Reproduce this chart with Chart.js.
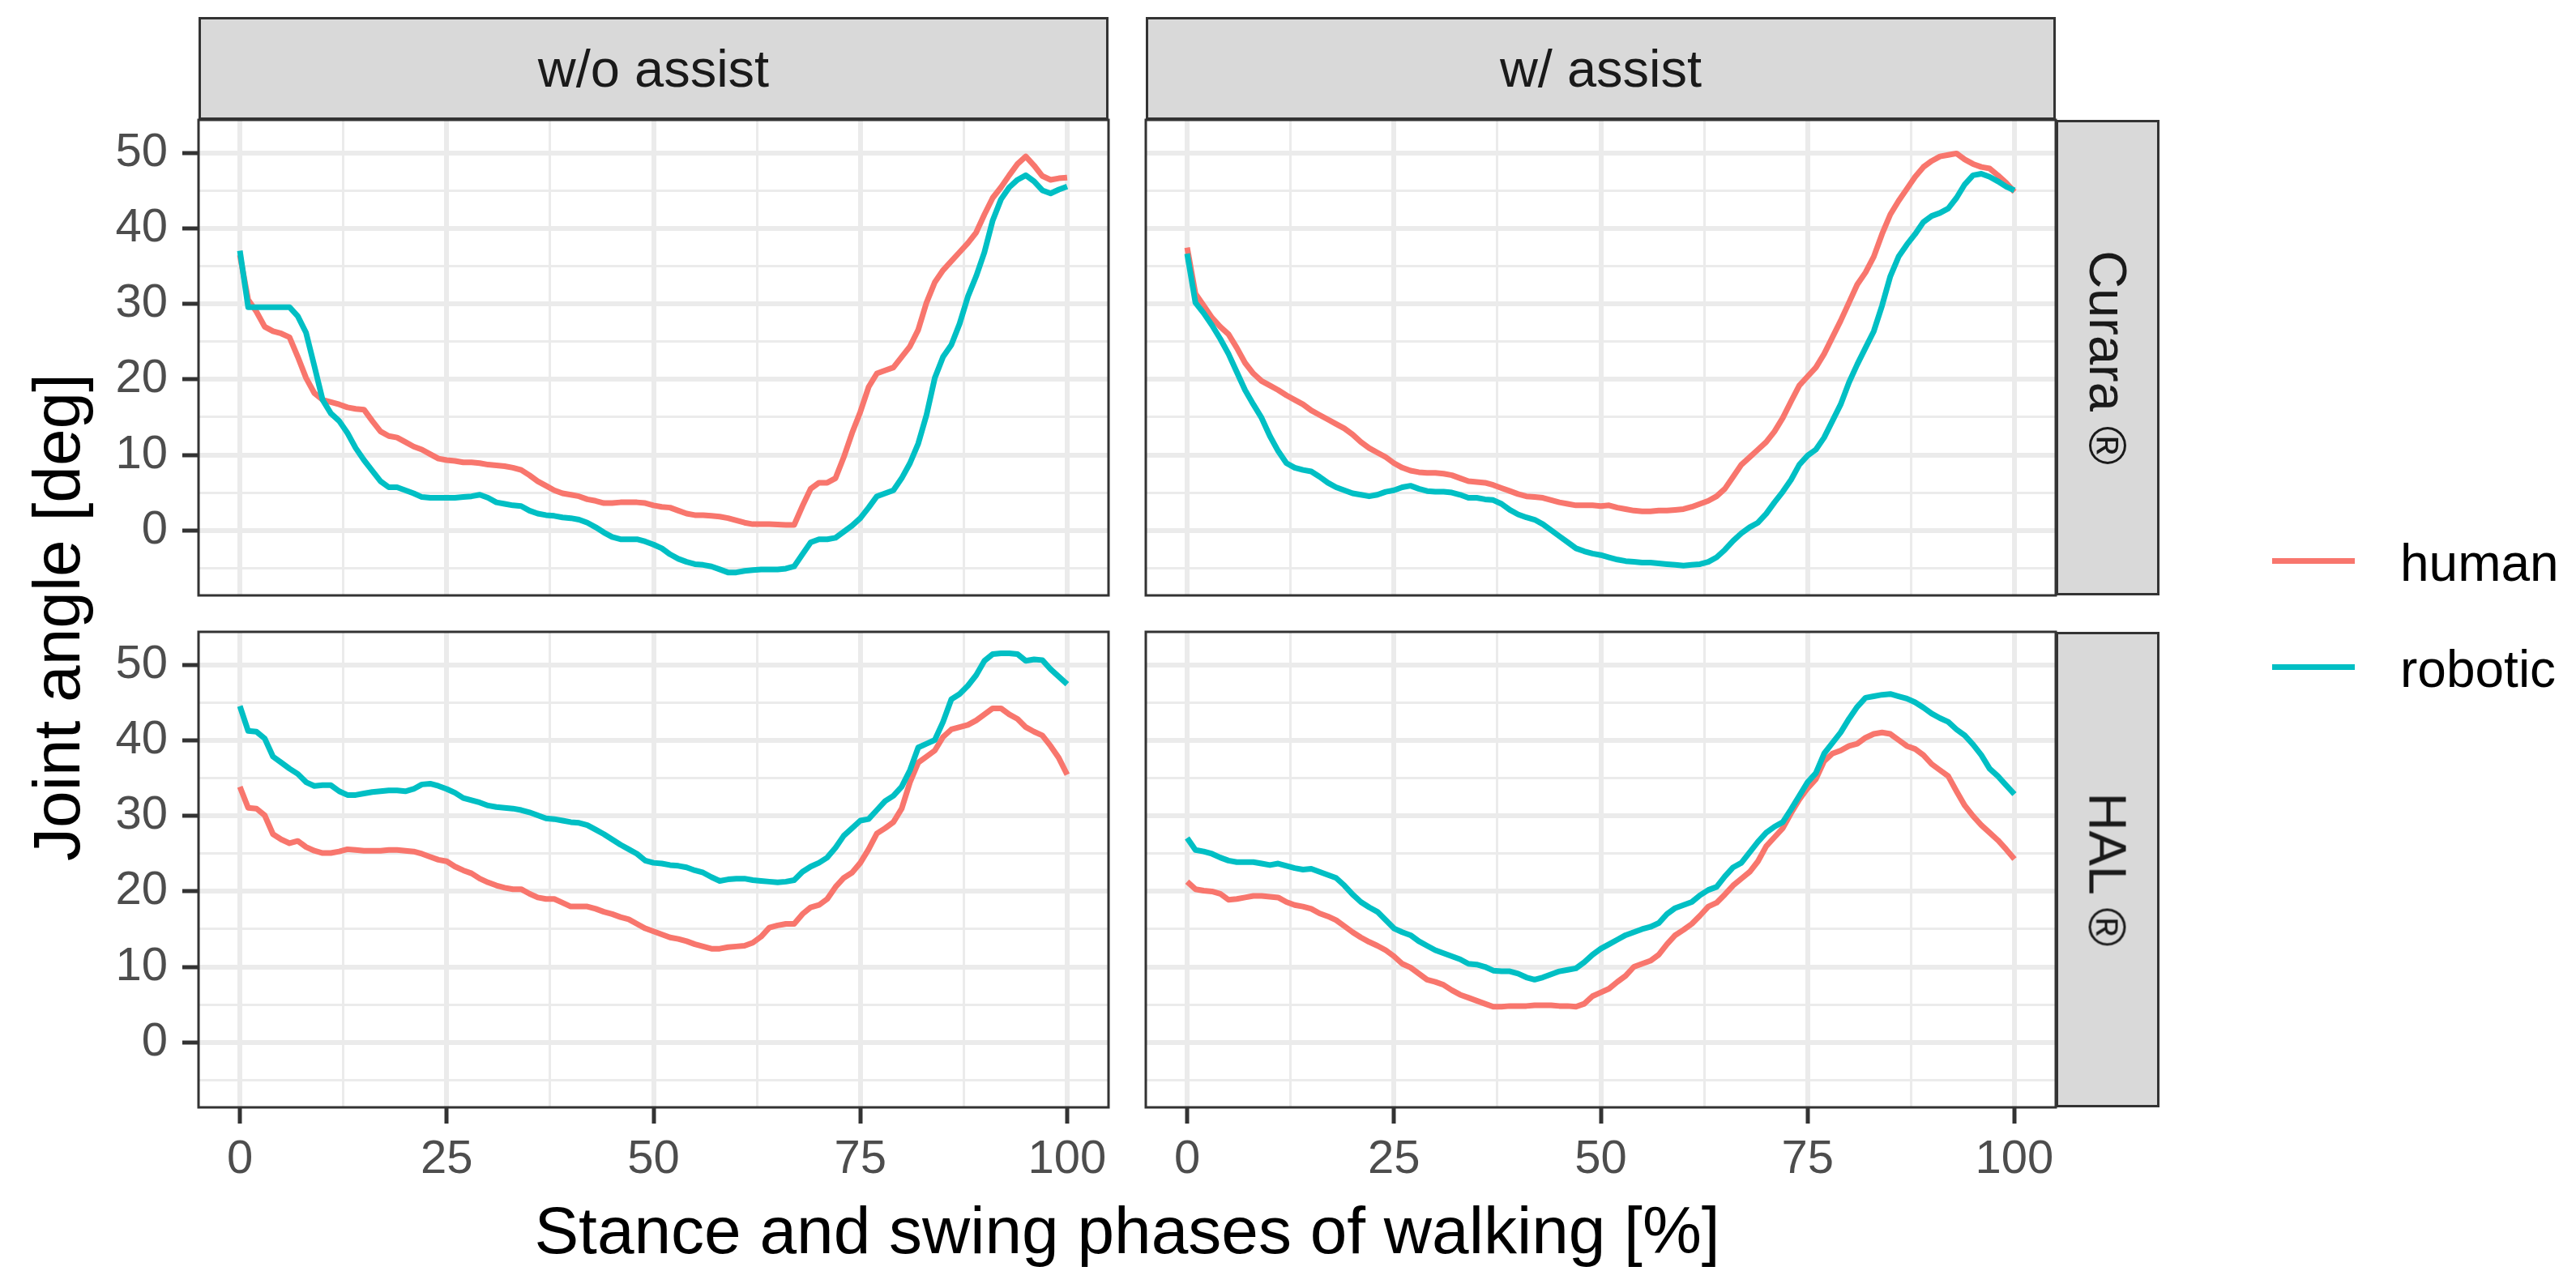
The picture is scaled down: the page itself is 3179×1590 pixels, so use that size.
<!DOCTYPE html>
<html>
<head>
<meta charset="utf-8">
<title>Joint angle</title>
<script src="https://cdn.jsdelivr.net/npm/chart.js@4.4.0/dist/chart.umd.min.js"></script>
<style>
  html, body { margin: 0; padding: 0; background: #fff; }
  #fig { position: relative; width: 3179px; height: 1590px; overflow: hidden;
         font-family: "Liberation Sans", Arial, sans-serif; }
  #fig canvas { position: absolute; }
  .strip { position: absolute; box-sizing: border-box; background: #d9d9d9;
           border: 3px solid #333333; color: #1a1a1a; font-size: 65px;
           display: flex; align-items: center; justify-content: center; }
  .strip span { white-space: nowrap; }
  .strip.side span { transform: rotate(90deg); }
  .title { position: absolute; color: #000; font-size: 82px; line-height: 82px; white-space: nowrap; }
  .key { position: absolute; left: 2804px; width: 102px; height: 7px; }
  .keytext { position: absolute; left: 2962px; font-size: 64px; line-height: 64px; color: #000; }
</style>
</head>
<body>
<div id="fig">
  <canvas id="pTL" width="1256" height="595" style="left:116px; top:144px;"></canvas>
  <canvas id="pTR" width="1131" height="595" style="left:1410px; top:144px;"></canvas>
  <canvas id="pBL" width="1256" height="705" style="left:116px; top:776px;"></canvas>
  <canvas id="pBR" width="1131" height="705" style="left:1410px; top:776px;"></canvas>

  <div class="strip" style="left:245px; top:21px; width:1123px; height:127px;"><span>w/o assist</span></div>
  <div class="strip" style="left:1414px; top:21px; width:1123px; height:127px;"><span>w/ assist</span></div>
  <div class="strip side" style="left:2537px; top:148px; width:128px; height:587px;"><span>Curara ®</span></div>
  <div class="strip side" style="left:2537px; top:780px; width:128px; height:587px;"><span>HAL ®</span></div>

  <div class="title" style="left:70px; top:762px; transform: translate(-50%, -50%) rotate(-90deg);">Joint angle [deg]</div>
  <div class="title" style="left:1391px; top:1478px; transform: translateX(-50%);">Stance and swing phases of walking [%]</div>

  <div class="key" style="top:689px; background:#F8766D;"></div>
  <div class="keytext" style="top:663px;">human</div>
  <div class="key" style="top:820px; background:#00BFC4;"></div>
  <div class="keytext" style="top:794px;">robotic</div>
</div>

<script>
// gait cycle, 0..100 %
const PHASE = Array.from({ length: 101 }, (_, i) => i);

const X_MAJOR = [0, 25, 50, 75, 100];
const X_MINOR = [12.5, 37.5, 62.5, 87.5];
const Y_MAJOR = [0, 10, 20, 30, 40, 50];
const Y_MINOR = [-5, 5, 15, 25, 35, 45];

const HUMAN_COLOR = '#F8766D';
const ROBOTIC_COLOR = '#00BFC4';

// Curara, w/o assist
const curaraOffHuman = [
  36.5, 30.6, 29.0, 27.0, 26.4, 26.1, 25.6, 23.0, 20.2, 18.2,
  17.3, 17.0, 16.7, 16.3, 16.1, 16.0, 14.5, 13.1, 12.5, 12.3,
  11.7, 11.1, 10.7, 10.1, 9.5, 9.3, 9.2, 9.0, 9.0, 8.9,
  8.7, 8.6, 8.5, 8.3, 8.0, 7.3, 6.5, 5.9, 5.3, 4.9,
  4.7, 4.5, 4.1, 3.9, 3.6, 3.6, 3.7, 3.7, 3.7, 3.6,
  3.3, 3.1, 3.0, 2.6, 2.2, 2.0, 2.0, 1.9, 1.8, 1.6,
  1.3, 1.0, 0.8, 0.8, 0.8, 0.75, 0.7, 0.7, 3.2, 5.5,
  6.3, 6.3, 6.9, 9.7, 12.9, 15.7, 19.0, 20.8, 21.2, 21.6,
  23.0, 24.4, 26.6, 30.2, 32.9, 34.5, 35.7, 36.9, 38.1, 39.5,
  41.9, 44.1, 45.5, 47.1, 48.6, 49.6, 48.4, 47.0, 46.5, 46.7,
  46.8
];
const curaraOffRobotic = [
  37.1, 29.6, 29.6, 29.6, 29.6, 29.6, 29.6, 28.4, 26.2, 21.8,
  17.3, 15.5, 14.5, 12.9, 10.9, 9.3, 7.9, 6.5, 5.7, 5.7,
  5.3, 4.9, 4.4, 4.3, 4.3, 4.3, 4.3, 4.4, 4.5, 4.7,
  4.3, 3.7, 3.5, 3.3, 3.2, 2.6, 2.2, 2.0, 1.9, 1.7,
  1.6, 1.4, 1.0, 0.4, -0.3, -0.9, -1.2, -1.2, -1.2, -1.5,
  -1.9, -2.4, -3.2, -3.8, -4.2, -4.5, -4.6, -4.8, -5.2, -5.6,
  -5.6, -5.4, -5.3, -5.2, -5.2, -5.2, -5.1, -4.8, -3.2, -1.6,
  -1.2, -1.2, -1.0, -0.2, 0.6, 1.6, 3.0, 4.5, 4.9, 5.3,
  6.9, 8.9, 11.5, 15.3, 20.2, 23.0, 24.6, 27.4, 31.0, 33.7,
  36.9, 41.1, 43.9, 45.5, 46.5, 47.1, 46.3, 45.1, 44.7, 45.2,
  45.6
];

// Curara, w/ assist
const curaraOnHuman = [
  37.5, 31.4, 29.8, 28.2, 27.0, 26.0, 24.2, 22.2, 20.8, 19.8,
  19.2, 18.6, 17.9, 17.3, 16.7, 15.9, 15.3, 14.7, 14.1, 13.5,
  12.7, 11.7, 10.9, 10.3, 9.7, 8.9, 8.3, 7.9, 7.7, 7.6,
  7.6, 7.5, 7.3, 6.9, 6.5, 6.4, 6.3, 6.0, 5.6, 5.2,
  4.8, 4.5, 4.4, 4.3, 4.0, 3.7, 3.5, 3.3, 3.3, 3.3,
  3.2, 3.3, 3.0, 2.8, 2.6, 2.5, 2.5, 2.6, 2.6, 2.7,
  2.8, 3.1, 3.5, 3.9, 4.5, 5.5, 7.1, 8.7, 9.7, 10.7,
  11.7, 13.1, 14.9, 17.1, 19.2, 20.4, 21.6, 23.4, 25.6, 27.8,
  30.2, 32.6, 34.2, 36.3, 39.3, 41.9, 43.7, 45.3, 46.9, 48.2,
  49.0, 49.6, 49.8, 50.0, 49.2, 48.6, 48.2, 48.0, 47.1, 46.1,
  44.9
];
const curaraOnRobotic = [
  36.7, 30.2, 28.8, 27.2, 25.4, 23.4, 21.0, 18.6, 16.7, 14.9,
  12.5, 10.5, 8.9, 8.3, 8.0, 7.8, 7.1, 6.3, 5.7, 5.3,
  4.9, 4.7, 4.5, 4.7, 5.1, 5.3, 5.7, 5.9, 5.5, 5.2,
  5.1, 5.1, 5.0, 4.7, 4.3, 4.3, 4.1, 4.0, 3.5, 2.7,
  2.1, 1.7, 1.4, 0.8, 0.0, -0.8, -1.6, -2.4, -2.8, -3.1,
  -3.3, -3.6, -3.9, -4.1, -4.2, -4.3, -4.3, -4.4, -4.5, -4.6,
  -4.7, -4.6, -4.5, -4.2, -3.6, -2.6, -1.4, -0.4, 0.4, 1.0,
  2.2, 3.7, 5.1, 6.7, 8.7, 9.9, 10.7, 12.3, 14.5, 16.7,
  19.6, 22.0, 24.2, 26.4, 29.8, 33.7, 36.3, 37.9, 39.3, 40.9,
  41.7, 42.1, 42.7, 44.1, 45.9, 47.1, 47.3, 46.9, 46.3, 45.6,
  45.1
];

// HAL, w/o assist
const halOffHuman = [
  33.9, 31.1, 31.0, 30.1, 27.6, 26.9, 26.4, 26.7, 25.9, 25.4,
  25.1, 25.1, 25.3, 25.6, 25.5, 25.4, 25.4, 25.4, 25.5, 25.5,
  25.4, 25.3, 25.0, 24.6, 24.2, 24.0, 23.3, 22.8, 22.4, 21.7,
  21.2, 20.8, 20.5, 20.3, 20.3, 19.7, 19.2, 19.0, 19.0, 18.5,
  18.0, 18.0, 18.0, 17.7, 17.3, 17.0, 16.6, 16.3, 15.7, 15.1,
  14.7, 14.3, 13.9, 13.7, 13.4, 13.0, 12.7, 12.4, 12.4, 12.6,
  12.7, 12.8, 13.2, 14.0, 15.2, 15.5, 15.7, 15.7, 17.0, 17.9,
  18.2, 19.0, 20.6, 21.8, 22.5, 23.8, 25.6, 27.7, 28.4, 29.2,
  31.0, 34.5, 37.1, 37.9, 38.7, 40.5, 41.5, 41.8, 42.1, 42.7,
  43.5, 44.3, 44.3, 43.5, 42.9, 41.8, 41.2, 40.7, 39.3, 37.7,
  35.5
];
const halOffRobotic = [
  44.6, 41.3, 41.2, 40.3, 37.9, 37.1, 36.3, 35.6, 34.5, 34.0,
  34.1, 34.1, 33.3, 32.8, 32.8, 33.0, 33.2, 33.3, 33.4, 33.4,
  33.3, 33.6, 34.2, 34.3, 34.0, 33.6, 33.1, 32.4, 32.1, 31.8,
  31.4, 31.2, 31.1, 31.0, 30.8, 30.5, 30.1, 29.7, 29.6, 29.4,
  29.2, 29.1, 28.8, 28.2, 27.6, 26.9, 26.2, 25.6, 25.0, 24.1,
  23.8, 23.7, 23.5, 23.4, 23.2, 22.8, 22.5, 21.9, 21.4, 21.6,
  21.7, 21.7, 21.5, 21.4, 21.3, 21.2, 21.3, 21.5, 22.6, 23.3,
  23.8, 24.5, 25.8, 27.4, 28.4, 29.4, 29.6, 30.8, 32.0, 32.7,
  33.9, 36.1, 39.1, 39.6, 40.1, 42.5, 45.5, 46.2, 47.3, 48.7,
  50.6, 51.5, 51.6, 51.6, 51.5, 50.6, 50.8, 50.7, 49.5, 48.5,
  47.5
];

// HAL, w/ assist
const halOnHuman = [
  21.3, 20.3, 20.1, 20.0, 19.7, 18.9, 19.0, 19.2, 19.4, 19.4,
  19.3, 19.2, 18.6, 18.2, 18.0, 17.7, 17.1, 16.7, 16.2, 15.4,
  14.6, 13.9, 13.3, 12.8, 12.2, 11.4, 10.4, 9.9, 9.1, 8.3,
  8.0, 7.6, 6.9, 6.3, 5.9, 5.5, 5.1, 4.7, 4.7, 4.8,
  4.8, 4.8, 4.9, 4.9, 4.9, 4.8, 4.8, 4.7, 5.1, 6.1,
  6.6, 7.1, 8.0, 8.8, 10.0, 10.4, 10.8, 11.6, 13.0, 14.2,
  14.9, 15.7, 16.8, 18.0, 18.5, 19.6, 20.8, 21.7, 22.6, 24.0,
  26.0, 27.2, 28.4, 30.4, 32.2, 33.7, 34.9, 37.3, 38.3, 38.7,
  39.3, 39.6, 40.4, 40.9, 41.1, 40.9, 40.1, 39.3, 38.9, 38.1,
  36.9, 36.1, 35.3, 33.3, 31.4, 30.0, 28.8, 27.8, 26.8, 25.6,
  24.3
];
const halOnRobotic = [
  27.1, 25.5, 25.3, 25.0, 24.5, 24.1, 23.9, 23.9, 23.9, 23.7,
  23.5, 23.7, 23.4, 23.1, 22.9, 23.0, 22.6, 22.2, 21.8, 20.8,
  19.6, 18.6, 17.9, 17.3, 16.2, 15.1, 14.6, 14.2, 13.4, 12.8,
  12.2, 11.8, 11.4, 11.0, 10.4, 10.3, 10.0, 9.5, 9.4, 9.4,
  9.1, 8.6, 8.3, 8.6, 9.0, 9.4, 9.6, 9.8, 10.6, 11.6,
  12.4, 13.0, 13.6, 14.2, 14.6, 15.0, 15.3, 15.8, 17.0, 17.8,
  18.2, 18.6, 19.5, 20.2, 20.6, 22.0, 23.2, 23.8, 25.2, 26.6,
  27.8, 28.6, 29.2, 30.9, 32.7, 34.5, 35.7, 38.3, 39.7, 41.1,
  42.9, 44.5, 45.7, 45.9, 46.1, 46.2, 45.9, 45.6, 45.1, 44.4,
  43.6, 43.0, 42.5, 41.5, 40.7, 39.5, 38.1, 36.3, 35.3, 34.1,
  32.9
];

const GRID_COLOR = '#EBEBEB';
const AXIS_COLOR = '#333333';
const FONT = '"Liberation Sans", Arial, sans-serif';

// ggplot style panel frame drawn over everything
const panelBorder = {
  id: 'panelBorder',
  afterDraw(chart) {
    const a = chart.chartArea;
    const c = chart.ctx;
    c.save();
    c.strokeStyle = AXIS_COLOR;
    c.lineWidth = 3;
    c.strokeRect(a.left, a.top, a.right - a.left, a.bottom - a.top);
    c.restore();
  }
};

// fixed axis size, and no extra room reserved for overhanging labels,
// so every panel gets exactly the same plot area
function fixSize(scale, size) {
  if (scale.isHorizontal()) scale.height = size;
  else scale.width = size;
  scale.paddingTop = 0;
  scale.paddingBottom = 0;
  scale.paddingLeft = 0;
  scale.paddingRight = 0;
}

function toPoints(values) {
  return PHASE.map((x, i) => ({ x: x, y: values[i] }));
}

function makePanel(id, human, robotic, withX, withY) {
  const canvas = document.getElementById(id);
  return new Chart(canvas, {
    type: 'line',
    data: {
      datasets: [
        { label: 'human', data: toPoints(human), borderColor: HUMAN_COLOR, order: 2 },
        { label: 'robotic', data: toPoints(robotic), borderColor: ROBOTIC_COLOR, order: 1 }
      ]
    },
    options: {
      responsive: false,
      animation: false,
      devicePixelRatio: 1,
      layout: { padding: 4, autoPadding: false },
      plugins: { legend: { display: false }, tooltip: { enabled: false } },
      elements: {
        point: { radius: 0 },
        line: { borderWidth: 7, tension: 0, borderJoinStyle: 'round', borderCapStyle: 'butt' }
      },
      scales: {
        x: {
          type: 'linear',
          min: -5,
          max: 105,
          afterBuildTicks: (s) => { s.ticks = X_MAJOR.concat(X_MINOR).sort((a, b) => a - b).map(v => ({ value: v })); },
          afterFit: (s) => fixSize(s, withX ? 110 : 0),
          border: { display: false },
          grid: {
            color: GRID_COLOR,
            lineWidth: (c) => X_MAJOR.includes(c.tick.value) ? 6 : 3,
            drawTicks: withX,
            tickLength: 20,
            tickWidth: 5,
            tickColor: (c) => X_MAJOR.includes(c.tick.value) ? AXIS_COLOR : 'rgba(0,0,0,0)'
          },
          ticks: {
            display: withX,
            autoSkip: false,
            maxRotation: 0,
            padding: 10,
            color: '#4D4D4D',
            font: { family: FONT, size: 58 },
            callback: (v) => X_MAJOR.includes(v) ? String(v) : ''
          }
        },
        y: {
          type: 'linear',
          min: -8.65,
          max: 54.45,
          afterBuildTicks: (s) => { s.ticks = Y_MINOR.concat(Y_MAJOR).sort((a, b) => a - b).map(v => ({ value: v })); },
          afterFit: (s) => fixSize(s, withY ? 125 : 0),
          border: { display: false },
          grid: {
            color: GRID_COLOR,
            lineWidth: (c) => Y_MAJOR.includes(c.tick.value) ? 6 : 3,
            drawTicks: withY,
            tickLength: 20,
            tickWidth: 5,
            tickColor: (c) => Y_MAJOR.includes(c.tick.value) ? AXIS_COLOR : 'rgba(0,0,0,0)'
          },
          ticks: {
            display: withY,
            autoSkip: false,
            padding: 18,
            color: '#4D4D4D',
            font: { family: FONT, size: 58 },
            callback: (v) => Y_MAJOR.includes(v) ? String(v) : ''
          }
        }
      }
    },
    plugins: [panelBorder]
  });
}

makePanel('pTL', curaraOffHuman, curaraOffRobotic, false, true);
makePanel('pTR', curaraOnHuman, curaraOnRobotic, false, false);
makePanel('pBL', halOffHuman, halOffRobotic, true, true);
makePanel('pBR', halOnHuman, halOnRobotic, true, false);
</script>
</body>
</html>
